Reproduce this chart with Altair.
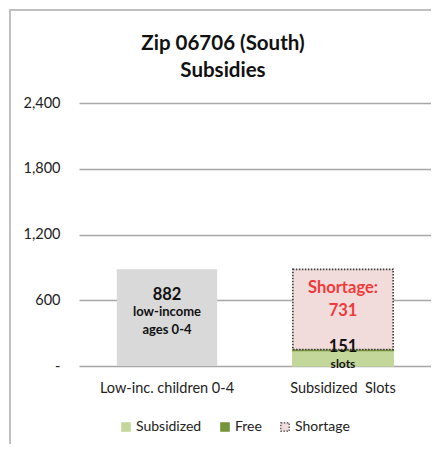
import altair as alt
import pandas as pd

# ---- data ----
categories = ["Low-inc. children 0-4", "Subsidized\u00a0 Slots"]
low_income_children = [882]
series_names = ["Subsidized", "Free", "Shortage"]
series_values = [141, 10, 731]
series_colors = ["#c4d79b", "#77933c", "#f2dcdb"]
series_strokes = ["#c4d79b", "#77933c", "#3a3a3a"]
y_ticks = [0, 600, 1200, 1800, 2400]

FONT = "Lato"

df_gray = pd.DataFrame({"category": [categories[0]], "value": low_income_children})
df_stack = pd.DataFrame({
    "category": [categories[1]] * 3,
    "series": series_names,
    "value": series_values,
    "ord": [0, 1, 2],
})
total_needed = low_income_children[0]
slots_total = series_values[0] + series_values[1]

xenc = alt.X("category:N", sort=categories,
             scale=alt.Scale(domain=categories, paddingInner=0.43, paddingOuter=0.215),
             axis=alt.Axis(title=None, labelAngle=0, domain=False, ticks=False,
                           labelPadding=15, labelFontSize=14.5, labelColor="#222",
                           labelFont=FONT))
yscale = alt.Scale(domain=[0, 2400])
yaxis = alt.Axis(title=None, values=y_ticks, grid=True, gridColor="#a6a6a6",
                 gridWidth=1.6, domain=False, ticks=False, labelPadding=19,
                 labelFontSize=14.5, labelColor="#222", labelFont=FONT,
                 labelExpr="datum.value == 0 ? '-' : format(datum.value, ',')")

frame = alt.Chart(pd.DataFrame({"a": [0]})).mark_rect(
    filled=False, stroke="#c0c0c0", strokeWidth=2
).encode(x=alt.value(-69), x2=alt.value(420), y=alt.value(-93), y2=alt.value(346))

gray = alt.Chart(df_gray).mark_bar(color="#d9d9d9").encode(
    x=xenc,
    y=alt.Y("value:Q", scale=yscale, axis=yaxis, stack=None),
)

stack = alt.Chart(df_stack).mark_bar(strokeWidth=1.6).encode(
    x=xenc,
    y=alt.Y("value:Q", scale=yscale, axis=yaxis, stack="zero"),
    fill=alt.Fill("series:N", scale=alt.Scale(domain=series_names, range=series_colors), title=None),
    stroke=alt.Stroke("series:N", scale=alt.Scale(domain=series_names, range=series_strokes), title=None),
    strokeDash=alt.StrokeDash("series:N", scale=alt.Scale(domain=series_names,
                              range=[[1, 0], [1, 0], [1.5, 1.5]]), title=None),
    order=alt.Order("ord:Q"),
)

def label(cat, yval, text, size, dy, color="#111", baseline="middle", lh=None):
    d = pd.DataFrame({"category": [cat], "y": [yval], "t": [text]})
    kw = dict(fontSize=size, fontWeight="bold", font=FONT, color=color,
              baseline=baseline, align="center", dy=dy, lineBreak="\n")
    if lh:
        kw["lineHeight"] = lh
    return alt.Chart(d).mark_text(**kw).encode(
        x=alt.X("category:N", sort=categories),
        y=alt.Y("y:Q"),
        text="t:N",
    )

t1 = label(categories[0], total_needed, str(total_needed), 16.5, 26)
t2 = label(categories[0], total_needed, "low-income\nages 0-4", 13, 37, baseline="top", lh=18)
t3 = label(categories[1], total_needed, "Shortage:\n" + str(series_values[2]), 16.5, 11,
           color="#f03a3a", baseline="top", lh=23)
t4 = label(categories[1], slots_total, str(slots_total), 16.5, -2)
t5 = label(categories[1], slots_total, "slots", 12, 15)

chart = alt.layer(frame, gray, stack, t1, t2, t3, t4, t5).properties(
    width=352, height=263,
    autosize=alt.AutoSizeParams(type="none"),
    padding={"left": 71, "top": 95, "right": 0, "bottom": 78},
    title=alt.TitleParams(["Zip 06706 (South)", "Subsidies"], fontSize=20.5,
                          font=FONT, fontWeight="bold", color="#111",
                          anchor="middle", frame="group", dx=-32, offset=-72,
                          lineHeight=27),
).configure_view(stroke=None).configure_legend(
    orient="none", legendX=40, legendY=317, direction="horizontal",
    labelFont=FONT, labelFontSize=14, labelColor="#222", symbolType="square",
    symbolSize=70, symbolStrokeWidth=1.2, labelOffset=3, columnPadding=16,
    title=None,
)

chart.save("out.html", embed_options={"renderer": "svg", "actions": False})
